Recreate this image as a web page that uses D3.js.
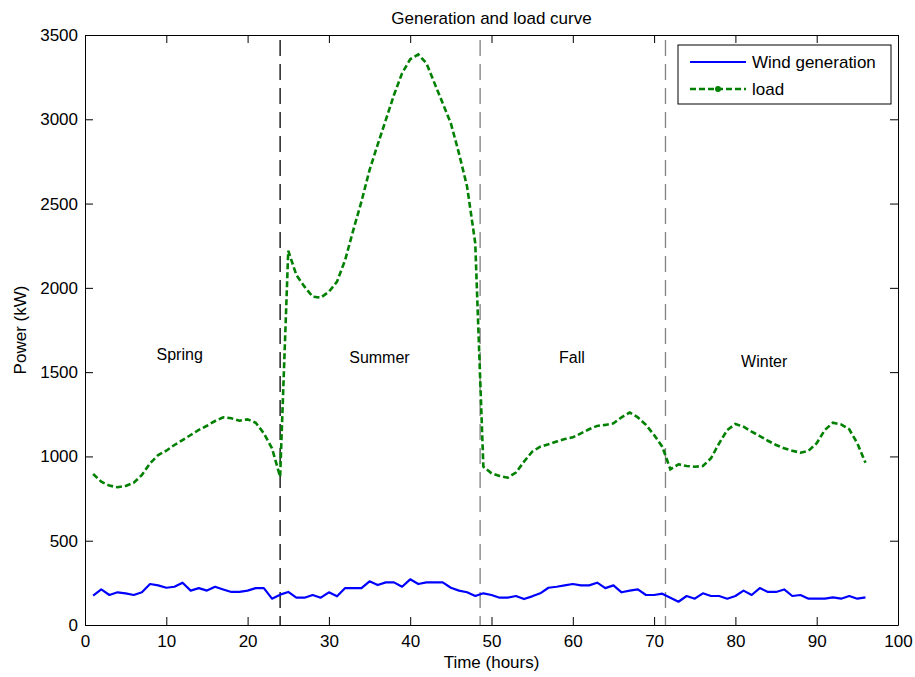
<!DOCTYPE html>
<html lang="en">
<head>
  <meta charset="UTF-8" />
  <title>Generation and load curve</title>
  <script src="https://d3js.org/d3.v7.min.js"></script>
  <style>
    body {
      margin: 0;
      padding: 0;
      background: #fff;
      font-family: "Liberation Sans", Arial, Helvetica, sans-serif;
    }
    #chart svg { display: block; }
    .axis text { font-size: 17px; fill: #000; }
    .axis path, .axis line { stroke: #000; stroke-width: 1; }
  </style>
</head>
<body>

<div id="chart"></div>

<script>
  // Hourly series, four seasons of 24 hours each
  const hours = d3.range(1, 97);

  const windGen = [
    174, 211, 178, 194, 188, 178, 194, 243, 235, 221, 227, 251, 204, 219, 204, 227, 211, 196, 196, 204, 219, 219, 156, 180,
    196, 162, 162, 178, 162, 194, 170, 219, 219, 219, 259, 237, 253, 253, 227, 271, 243, 253, 253, 253, 221, 204, 194, 172,
    188, 178, 162, 162, 172, 154, 170, 188, 221, 227, 235, 243, 235, 235, 251, 219, 235, 194, 204, 211, 178, 178, 186, 162,
    138, 172, 156, 188, 172, 172, 156, 172, 204, 178, 219, 196, 196, 211, 172, 178, 156, 156, 156, 164, 156, 172, 156, 164
  ];

  const load = [
    896, 850, 827, 817, 825, 844, 890, 959, 1008, 1034, 1068, 1097, 1127, 1157, 1182, 1210, 1232, 1226, 1212, 1220, 1200, 1137, 1048, 880,
    2220, 2076, 2007, 1948, 1942, 1977, 2037, 2165, 2343, 2511, 2699, 2850, 2996, 3144, 3273, 3356, 3385, 3332, 3213, 3095, 2976, 2798, 2600, 2266,
    939, 900, 884, 874, 904, 969, 1028, 1058, 1072, 1088, 1103, 1113, 1137, 1161, 1181, 1187, 1196, 1232, 1260, 1232, 1187, 1127, 1058, 924,
    953, 943, 939, 943, 989, 1078, 1157, 1192, 1176, 1147, 1121, 1093, 1068, 1048, 1034, 1022, 1034, 1078, 1157, 1200, 1190, 1161, 1078, 962
  ];

  // season boundaries (hours) and labels
  const boundaries = [24, 48.6, 71.4];
  const boundaryColors = ["#000", "#808080", "#808080"];
  const seasons = ["Spring", "Summer", "Fall", "Winter"];
  const seasonX = [8.8, 32.5, 58.3, 80.7];
  const seasonY = [1572, 1554, 1554, 1530];

  const xTicks = [0, 10, 20, 30, 40, 50, 60, 70, 80, 90, 100];
  const yTicks = [0, 500, 1000, 1500, 2000, 2500, 3000, 3500];

  const width = 915;
  const height = 677;
  const margin = { top: 35, right: 17, bottom: 52, left: 85 };
  const innerW = width - margin.left - margin.right;
  const innerH = height - margin.top - margin.bottom;

  const svg = d3.select("#chart")
    .append("svg")
    .attr("width", width)
    .attr("height", height);

  const g = svg.append("g")
    .attr("transform", `translate(${margin.left},${margin.top})`);

  const x = d3.scaleLinear().domain([0, 100]).range([0, innerW]);
  const y = d3.scaleLinear().domain([0, 3500]).range([innerH, 0]);
  const fmt = d3.format("d");

  // boxed axes with inward ticks
  g.append("g").attr("class", "axis")
    .attr("transform", `translate(0,${innerH})`)
    .call(d3.axisBottom(x).tickValues(xTicks).tickFormat(fmt).tickSizeInner(-8).tickSizeOuter(0).tickPadding(10));
  g.append("g").attr("class", "axis")
    .call(d3.axisTop(x).tickValues(xTicks).tickSizeInner(-8).tickSizeOuter(0).tickFormat(""));
  g.append("g").attr("class", "axis")
    .call(d3.axisLeft(y).tickValues(yTicks).tickFormat(fmt).tickSizeInner(-8).tickSizeOuter(0).tickPadding(7));
  g.append("g").attr("class", "axis")
    .attr("transform", `translate(${innerW},0)`)
    .call(d3.axisRight(y).tickValues(yTicks).tickSizeInner(-8).tickSizeOuter(0).tickFormat(""));

  // season dividers
  g.selectAll(".divider")
    .data(boundaries)
    .enter()
    .append("line")
    .attr("class", "divider")
    .attr("x1", d => x(d))
    .attr("x2", d => x(d))
    .attr("y1", 5)
    .attr("y2", innerH)
    .attr("stroke", (d, i) => boundaryColors[i])
    .attr("stroke-width", 1.3)
    .attr("stroke-dasharray", "16,8");

  // season labels
  g.selectAll(".season")
    .data(seasons)
    .enter()
    .append("text")
    .attr("class", "season")
    .attr("x", (d, i) => x(seasonX[i]))
    .attr("y", (d, i) => y(seasonY[i]))
    .style("font-size", "16px")
    .style("fill", "#000")
    .text(d => d);

  const line = d3.line()
    .x((d, i) => x(hours[i]))
    .y(d => y(d));

  g.append("path")
    .datum(windGen)
    .attr("fill", "none")
    .attr("stroke", "#0000ff")
    .attr("stroke-width", 2.2)
    .attr("stroke-linejoin", "round")
    .attr("d", line);

  g.append("path")
    .datum(load)
    .attr("fill", "none")
    .attr("stroke", "#008000")
    .attr("stroke-width", 2.6)
    .attr("stroke-dasharray", "6,3")
    .attr("d", line);

  // title and axis labels
  svg.append("text")
    .attr("x", margin.left + innerW / 2)
    .attr("y", 24)
    .attr("text-anchor", "middle")
    .style("font-size", "17px")
    .text("Generation and load curve");

  svg.append("text")
    .attr("x", margin.left + innerW / 2)
    .attr("y", 668)
    .attr("text-anchor", "middle")
    .style("font-size", "17px")
    .text("Time (hours)");

  svg.append("text")
    .attr("transform", `translate(26,${margin.top + innerH / 2}) rotate(-90)`)
    .attr("text-anchor", "middle")
    .style("font-size", "17px")
    .text("Power (kW)");

  // legend
  const legend = svg.append("g").attr("transform", "translate(678,45)");
  legend.append("rect")
    .attr("width", 213)
    .attr("height", 59)
    .attr("fill", "#fff")
    .attr("stroke", "#000")
    .attr("stroke-width", 1);

  legend.append("line")
    .attr("x1", 12).attr("x2", 68)
    .attr("y1", 17).attr("y2", 17)
    .attr("stroke", "#0000ff")
    .attr("stroke-width", 2.2);
  legend.append("text")
    .attr("x", 74).attr("y", 23)
    .style("font-size", "17px")
    .text("Wind generation");

  legend.append("line")
    .attr("x1", 12).attr("x2", 68)
    .attr("y1", 44).attr("y2", 44)
    .attr("stroke", "#008000")
    .attr("stroke-width", 2.6)
    .attr("stroke-dasharray", "6,3");
  legend.append("circle")
    .attr("cx", 40).attr("cy", 44)
    .attr("r", 3)
    .attr("fill", "#008000");
  legend.append("text")
    .attr("x", 74).attr("y", 50)
    .style("font-size", "17px")
    .text("load");
</script>
</body>
</html>
